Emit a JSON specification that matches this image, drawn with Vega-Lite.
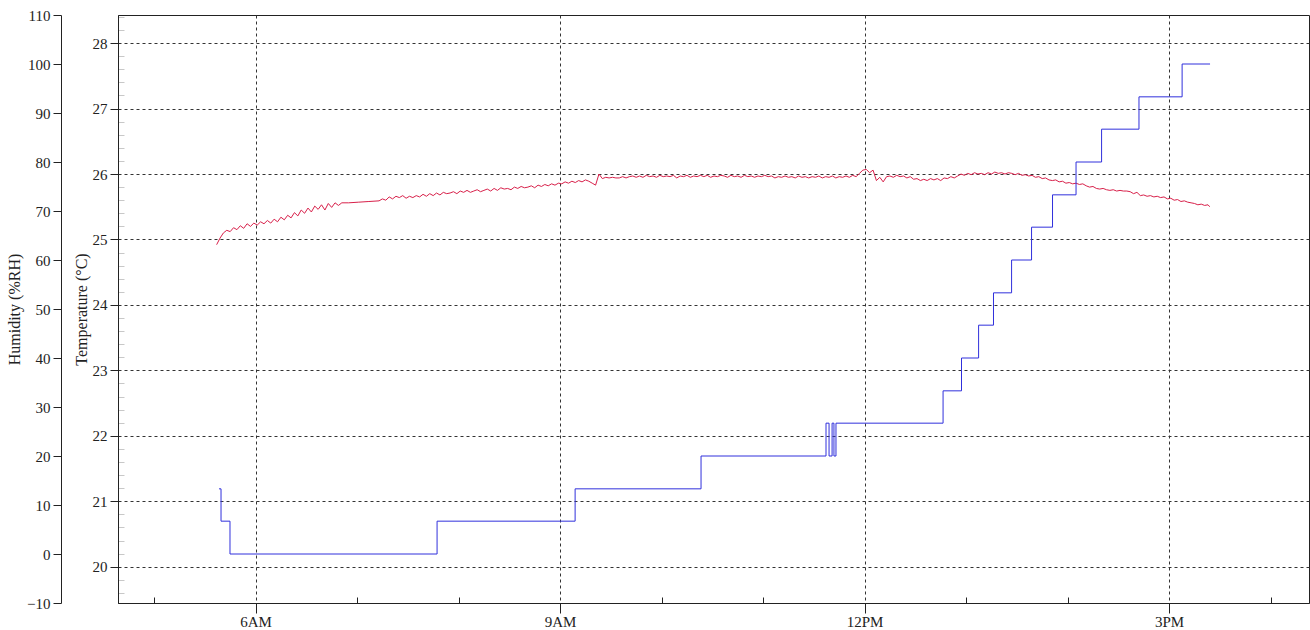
{
  "$schema": "https://vega.github.io/schema/vega-lite/v6.json",
  "width": 1191,
  "height": 588,
  "autosize": {"type": "none"},
  "padding": {"left": 118, "top": 15, "right": 1, "bottom": 27},
  "background": "white",
  "config": {
    "view": {"stroke": "#222", "strokeWidth": 1},
    "axis": {
      "labelFont": "Liberation Serif", "labelFontSize": 15, "labelColor": "#222",
      "titleFont": "Liberation Serif", "titleFontSize": 16, "titleFontWeight": "normal", "titleColor": "#222",
      "domainColor": "#222", "tickColor": "#222", "gridColor": "#333", "gridDash": [3, 3], "gridWidth": 1
    }
  },
  "resolve": {"scale": {"y": "independent"}},
  "layer": [
    {
      "data": {
        "format": {"parse": {"t": "date:'%H:%M'"}},
        "values": [
          {"t":"05:37","v":24.92},{"t":"05:39","v":25.02},{"t":"05:41","v":25.10},{"t":"05:43","v":25.14},{"t":"05:45","v":25.12},{"t":"05:47","v":25.18},{"t":"05:49","v":25.15},{"t":"05:51","v":25.21},{"t":"05:53","v":25.17},{"t":"05:55","v":25.24},{"t":"05:57","v":25.20},{"t":"05:59","v":25.25},
          {"t":"06:01","v":25.22},{"t":"06:03","v":25.27},{"t":"06:05","v":25.24},{"t":"06:07","v":25.29},{"t":"06:09","v":25.25},{"t":"06:11","v":25.31},{"t":"06:13","v":25.27},{"t":"06:15","v":25.34},{"t":"06:17","v":25.30},{"t":"06:19","v":25.37},{"t":"06:21","v":25.33},{"t":"06:23","v":25.41},{"t":"06:25","v":25.36},{"t":"06:27","v":25.45},{"t":"06:29","v":25.40},{"t":"06:31","v":25.48},{"t":"06:33","v":25.42},{"t":"06:35","v":25.51},{"t":"06:37","v":25.46},{"t":"06:39","v":25.53},{"t":"06:41","v":25.45},{"t":"06:43","v":25.55},{"t":"06:45","v":25.49},{"t":"06:47","v":25.56},{"t":"06:49","v":25.52},{"t":"06:51","v":25.56},{"t":"06:55","v":25.56},{"t":"07:01","v":25.57},{"t":"07:07","v":25.58},{"t":"07:13","v":25.59},
          {"t":"07:15","v":25.62},{"t":"07:17","v":25.60},{"t":"07:19","v":25.65},{"t":"07:21","v":25.62},{"t":"07:23","v":25.66},{"t":"07:25","v":25.64},{"t":"07:27","v":25.67},{"t":"07:29","v":25.63},{"t":"07:31","v":25.66},{"t":"07:33","v":25.64},{"t":"07:35","v":25.67},{"t":"07:37","v":25.65},{"t":"07:39","v":25.69},{"t":"07:41","v":25.66},{"t":"07:43","v":25.70},{"t":"07:45","v":25.67},{"t":"07:47","v":25.71},{"t":"07:49","v":25.68},{"t":"07:51","v":25.72},{"t":"07:53","v":25.70},{"t":"07:55","v":25.71},{"t":"07:57","v":25.73},{"t":"07:59","v":25.70},
          {"t":"08:01","v":25.74},{"t":"08:03","v":25.72},{"t":"08:05","v":25.75},{"t":"08:07","v":25.72},{"t":"08:09","v":25.74},{"t":"08:11","v":25.76},{"t":"08:13","v":25.73},{"t":"08:15","v":25.75},{"t":"08:17","v":25.77},{"t":"08:19","v":25.74},{"t":"08:21","v":25.78},{"t":"08:23","v":25.75},{"t":"08:25","v":25.79},{"t":"08:27","v":25.77},{"t":"08:29","v":25.78},{"t":"08:31","v":25.76},{"t":"08:33","v":25.80},{"t":"08:35","v":25.78},{"t":"08:37","v":25.81},{"t":"08:39","v":25.79},{"t":"08:41","v":25.80},{"t":"08:43","v":25.82},{"t":"08:45","v":25.79},{"t":"08:47","v":25.83},{"t":"08:49","v":25.81},{"t":"08:51","v":25.84},{"t":"08:53","v":25.82},{"t":"08:55","v":25.85},{"t":"08:57","v":25.83},{"t":"08:59","v":25.86},
          {"t":"09:01","v":25.85},{"t":"09:03","v":25.88},{"t":"09:05","v":25.86},{"t":"09:07","v":25.89},{"t":"09:09","v":25.87},{"t":"09:11","v":25.90},{"t":"09:13","v":25.88},{"t":"09:15","v":25.91},{"t":"09:17","v":25.89},{"t":"09:19","v":25.86},{"t":"09:21","v":25.83},{"t":"09:23","v":26.00},{"t":"09:25","v":25.93},{"t":"09:27","v":25.95},{"t":"09:29","v":25.94},{"t":"09:31","v":25.95},{"t":"09:33","v":25.94},
          {"t":"09:35","v":25.94},{"t":"09:37","v":25.96},{"t":"09:39","v":25.94},{"t":"09:41","v":25.96},{"t":"09:43","v":25.97},{"t":"09:45","v":25.95},{"t":"09:47","v":25.97},{"t":"09:49","v":25.95},{"t":"09:51","v":25.98},{"t":"09:53","v":25.96},{"t":"09:55","v":25.97},{"t":"09:57","v":25.95},{"t":"09:59","v":25.98},
          {"t":"10:01","v":25.96},{"t":"10:03","v":25.97},{"t":"10:05","v":25.96},{"t":"10:07","v":25.98},{"t":"10:09","v":25.94},{"t":"10:11","v":25.97},{"t":"10:13","v":25.96},{"t":"10:15","v":25.98},{"t":"10:17","v":25.95},{"t":"10:19","v":25.97},{"t":"10:21","v":25.96},{"t":"10:23","v":25.98},{"t":"10:25","v":25.96},{"t":"10:27","v":25.98},{"t":"10:29","v":25.95},{"t":"10:31","v":25.97},{"t":"10:33","v":25.96},{"t":"10:35","v":25.98},{"t":"10:37","v":25.97},{"t":"10:39","v":25.95},{"t":"10:41","v":25.98},{"t":"10:43","v":25.96},{"t":"10:45","v":25.97},{"t":"10:47","v":25.95},{"t":"10:49","v":25.98},{"t":"10:51","v":25.96},{"t":"10:53","v":25.97},{"t":"10:55","v":25.95},{"t":"10:57","v":25.97},{"t":"10:59","v":25.96},
          {"t":"11:01","v":25.98},{"t":"11:03","v":25.96},{"t":"11:05","v":25.97},{"t":"11:07","v":25.94},{"t":"11:09","v":25.96},{"t":"11:11","v":25.95},{"t":"11:13","v":25.97},{"t":"11:15","v":25.95},{"t":"11:17","v":25.96},{"t":"11:19","v":25.94},{"t":"11:21","v":25.97},{"t":"11:23","v":25.95},{"t":"11:25","v":25.96},{"t":"11:27","v":25.94},{"t":"11:29","v":25.96},{"t":"11:31","v":25.95},{"t":"11:33","v":25.97},{"t":"11:35","v":25.94},{"t":"11:37","v":25.96},{"t":"11:39","v":25.95},{"t":"11:41","v":25.97},{"t":"11:43","v":25.94},{"t":"11:45","v":25.96},{"t":"11:47","v":25.95},{"t":"11:49","v":25.97},{"t":"11:51","v":25.95},{"t":"11:53","v":25.98},{"t":"11:55","v":25.96},{"t":"11:57","v":26.01},{"t":"11:59","v":26.06},
          {"t":"12:01","v":26.07},{"t":"12:03","v":26.02},{"t":"12:05","v":26.06},{"t":"12:07","v":25.90},{"t":"12:09","v":25.95},{"t":"12:11","v":25.88},{"t":"12:13","v":25.96},{"t":"12:15","v":25.97},{"t":"12:17","v":25.95},{"t":"12:19","v":25.98},{"t":"12:21","v":25.96},{"t":"12:23","v":25.97},{"t":"12:25","v":25.94},{"t":"12:27","v":25.96},{"t":"12:29","v":25.92},{"t":"12:31","v":25.93},{"t":"12:33","v":25.90},{"t":"12:35","v":25.92},{"t":"12:37","v":25.90},{"t":"12:39","v":25.93},{"t":"12:41","v":25.91},{"t":"12:43","v":25.93},{"t":"12:45","v":25.90},{"t":"12:47","v":25.94},{"t":"12:49","v":25.93},{"t":"12:51","v":25.96},{"t":"12:53","v":25.94},{"t":"12:55","v":25.97},{"t":"12:57","v":26.00},{"t":"12:59","v":25.98},
          {"t":"13:01","v":26.01},{"t":"13:03","v":25.99},{"t":"13:05","v":26.02},{"t":"13:07","v":26.00},{"t":"13:09","v":26.01},{"t":"13:11","v":25.99},{"t":"13:13","v":26.02},{"t":"13:15","v":26.00},{"t":"13:17","v":26.03},{"t":"13:19","v":26.01},{"t":"13:21","v":26.02},{"t":"13:23","v":26.00},{"t":"13:25","v":26.02},{"t":"13:27","v":26.01},{"t":"13:29","v":25.99},{"t":"13:31","v":26.01},{"t":"13:33","v":25.98},{"t":"13:35","v":25.99},{"t":"13:37","v":25.97},{"t":"13:39","v":25.98},{"t":"13:41","v":25.95},{"t":"13:43","v":25.96},{"t":"13:45","v":25.93},{"t":"13:47","v":25.94},{"t":"13:49","v":25.91},{"t":"13:51","v":25.90},{"t":"13:53","v":25.91},{"t":"13:55","v":25.88},{"t":"13:57","v":25.89},{"t":"13:59","v":25.86},
          {"t":"14:01","v":25.87},{"t":"14:03","v":25.85},{"t":"14:05","v":25.86},{"t":"14:07","v":25.84},{"t":"14:09","v":25.85},{"t":"14:11","v":25.82},{"t":"14:13","v":25.80},{"t":"14:15","v":25.81},{"t":"14:17","v":25.78},{"t":"14:19","v":25.77},{"t":"14:21","v":25.78},{"t":"14:23","v":25.76},{"t":"14:25","v":25.75},{"t":"14:27","v":25.76},{"t":"14:29","v":25.74},{"t":"14:31","v":25.75},{"t":"14:33","v":25.74},{"t":"14:35","v":25.74},{"t":"14:37","v":25.73},{"t":"14:39","v":25.70},{"t":"14:41","v":25.72},{"t":"14:43","v":25.67},{"t":"14:45","v":25.68},{"t":"14:47","v":25.66},{"t":"14:49","v":25.67},{"t":"14:51","v":25.65},{"t":"14:53","v":25.66},{"t":"14:55","v":25.64},{"t":"14:57","v":25.65},{"t":"14:59","v":25.62},
          {"t":"15:01","v":25.63},{"t":"15:03","v":25.60},{"t":"15:05","v":25.61},{"t":"15:07","v":25.58},{"t":"15:09","v":25.59},{"t":"15:11","v":25.57},{"t":"15:13","v":25.56},{"t":"15:15","v":25.55},{"t":"15:17","v":25.53},{"t":"15:19","v":25.54},{"t":"15:21","v":25.52},{"t":"15:23","v":25.53},{"t":"15:24","v":25.50}
        ]
      },
      "mark": {"type": "line", "color": "#d8204a", "strokeWidth": 1},
      "encoding": {
        "x": {
          "field": "t", "type": "temporal",
          "scale": {"domain": [
            {"year": 1900, "month": 1, "date": 1, "hours": 4, "minutes": 38, "seconds": 42},
            {"year": 1900, "month": 1, "date": 1, "hours": 16, "minutes": 22, "seconds": 42}
          ]},
          "axis": {
            "title": null,
            "values": [
              {"year": 1900, "month": 1, "date": 1, "hours": 5},
              {"year": 1900, "month": 1, "date": 1, "hours": 6},
              {"year": 1900, "month": 1, "date": 1, "hours": 7},
              {"year": 1900, "month": 1, "date": 1, "hours": 8},
              {"year": 1900, "month": 1, "date": 1, "hours": 9},
              {"year": 1900, "month": 1, "date": 1, "hours": 10},
              {"year": 1900, "month": 1, "date": 1, "hours": 11},
              {"year": 1900, "month": 1, "date": 1, "hours": 12},
              {"year": 1900, "month": 1, "date": 1, "hours": 13},
              {"year": 1900, "month": 1, "date": 1, "hours": 14},
              {"year": 1900, "month": 1, "date": 1, "hours": 15},
              {"year": 1900, "month": 1, "date": 1, "hours": 16}
            ],
            "labelExpr": "hours(datum.value) % 3 == 0 ? timeFormat(datum.value, '%-I%p') : ''",
            "labelOverlap": false,
            "labelPadding": 1,
            "grid": true,
            "gridOpacity": {"condition": {"test": "hours(datum.value) % 3 == 0", "value": 1}, "value": 0},
            "tickSize": {"condition": {"test": "hours(datum.value) % 3 == 0", "value": 10}, "value": -6}
          }
        },
        "y": {
          "field": "v", "type": "quantitative",
          "scale": {"domain": [19.445, 28.43], "nice": false, "zero": false},
          "axis": {
            "orient": "left",
            "title": "Temperature (°C)",
            "titlePadding": 3,
            "values": [19.6,19.8,20,20.2,20.4,20.6,20.8,21,21.2,21.4,21.6,21.8,22,22.2,22.4,22.6,22.8,23,23.2,23.4,23.6,23.8,24,24.2,24.4,24.6,24.8,25,25.2,25.4,25.6,25.8,26,26.2,26.4,26.6,26.8,27,27.2,27.4,27.6,27.8,28,28.2,28.4],
            "labelExpr": "abs(datum.value - round(datum.value)) < 0.01 ? format(datum.value, 'd') : ''",
            "labelOverlap": false,
            "labelPadding": 3,
            "grid": true,
            "gridOpacity": {"condition": {"test": "abs(datum.value - round(datum.value)) < 0.01", "value": 1}, "value": 0},
            "tickSize": {"condition": {"test": "abs(datum.value - round(datum.value)) < 0.01", "value": 8}, "value": -6},
            "tickColor": {"condition": {"test": "abs(datum.value - round(datum.value)) < 0.01", "value": "#222"}, "value": "#c8c8c8"}
          }
        }
      }
    },
    {
      "data": {
        "format": {"parse": {"t": "date:'%H:%M:%S'"}},
        "values": [
          {"t":"05:38:24","h":13.3},{"t":"05:39:36","h":6.7},{"t":"05:44:54","h":0},{"t":"07:47:18","h":6.7},{"t":"09:08:54","h":13.3},{"t":"10:23:20","h":20},{"t":"11:37:12","h":26.7},{"t":"11:39:00","h":20},{"t":"11:40:48","h":26.7},{"t":"11:41:54","h":20},{"t":"11:43:06","h":26.7},{"t":"12:46:24","h":33.3},{"t":"12:57:18","h":40},{"t":"13:07:24","h":46.7},{"t":"13:16:12","h":53.3},{"t":"13:26:54","h":60},{"t":"13:38:42","h":66.7},{"t":"13:51:06","h":73.3},{"t":"14:05:00","h":80},{"t":"14:20:06","h":86.7},{"t":"14:42:12","h":93.3},{"t":"15:07:42","h":100},{"t":"15:24:12","h":100}
        ]
      },
      "mark": {"type": "line", "interpolate": "step-after", "color": "#3030dc", "strokeWidth": 1},
      "encoding": {
        "x": {"field": "t", "type": "temporal"},
        "y": {
          "field": "h", "type": "quantitative",
          "scale": {"domain": [-10, 110], "nice": false, "zero": false},
          "axis": {
            "orient": "left",
            "offset": 57,
            "title": "Humidity (%RH)",
            "titlePadding": 4,
            "values": [-10,0,10,20,30,40,50,60,70,80,90,100,110],
            "labelOverlap": false,
            "tickSize": 8,
            "labelPadding": 3,
            "grid": false
          }
        }
      }
    }
  ]
}
